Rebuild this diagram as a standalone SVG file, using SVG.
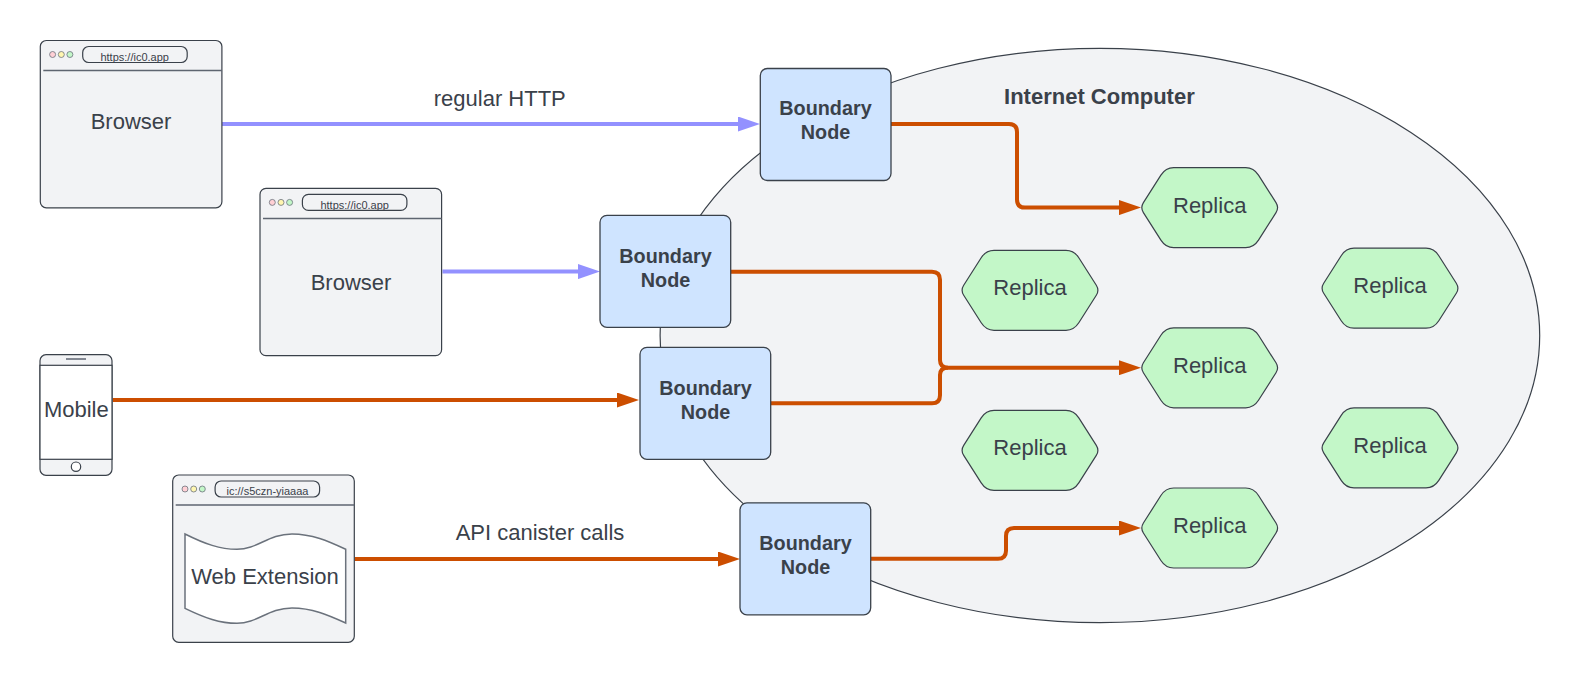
<svg xmlns="http://www.w3.org/2000/svg" width="1580" height="682" viewBox="0 0 1580 682">
<style>
text{font-family:"Liberation Sans",Arial,sans-serif;fill:#3a414a;text-anchor:middle}
.o{stroke:#3a414a;stroke-width:1.2;fill:#f2f3f5}
.w{stroke:#3a414a;stroke-width:1.2;fill:#fff}
.sep{stroke:#5e6570;stroke-width:1.5;fill:none}
.bn{stroke:#3a414a;stroke-width:1.3;fill:#cfe4ff}
.bt{font-size:19.8px;font-weight:bold}
.rep{stroke:#3a414a;stroke-width:1.2;fill:#c3f7c8}
.rt{font-size:22px}
.url{font-size:11px}
.lab{font-size:22px}
.dot{stroke:#6b727c;stroke-width:.8}
.c{fill:none;stroke-width:4;stroke-linejoin:round}
.or{stroke:#cc4e00;marker-end:url(#ao)}
.pu{stroke:#9391ff;marker-end:url(#ap)}
</style>
<defs>
<marker id="ao" markerUnits="userSpaceOnUse" markerWidth="22" markerHeight="15" refX="12" refY="7.500" orient="auto"><path d="M0 0L22 7.500L0 15Z" fill="#cc4e00"/></marker>
<marker id="ap" markerUnits="userSpaceOnUse" markerWidth="22" markerHeight="15" refX="12" refY="7.500" orient="auto"><path d="M0 0L22 7.500L0 15Z" fill="#9391ff"/></marker>
<g id="win">
<rect class="o" x="0" y="0" width="181.600" height="167.300" rx="6"/>
<path class="sep" d="M3 30H181.600"/>
<circle class="dot" cx="12.300" cy="14" r="3" fill="#ffd0d5"/>
<circle class="dot" cx="21" cy="14" r="3" fill="#fff6b0"/>
<circle class="dot" cx="29.600" cy="14" r="3" fill="#c3f7c8"/>
<rect x="42.400" y="6" width="104.500" height="16" rx="6" fill="#f2f3f5" stroke="#3a414a" stroke-width="1.200"/>
</g>
<path id="hex" d="M-36 -40H36Q44 -40 48.800 -32.500L66.300 -5Q69.500 0 66.300 5L48.800 32.500Q44 40 36 40H-36Q-44 40 -48.800 32.500L-66.300 5Q-69.500 0 -66.300 -5L-48.800 -32.500Q-44 -40 -36 -40Z"/>
</defs>

<g id="internet-computer">
<ellipse class="o" cx="1099.900" cy="335.500" rx="439.800" ry="287.200"/>
<text x="1099.400" y="104" font-size="22" font-weight="bold">Internet Computer</text>
</g>

<g id="connectors">
<path class="c pu" d="M222 124H750"/>
<path class="c pu" d="M442.500 271.600H590"/>
<path class="c or" d="M112.700 400H629"/>
<path class="c or" d="M354.500 559H730"/>
<path class="c or" d="M891 124H1009Q1017 124 1017 132V199.600Q1017 207.600 1025 207.600H1131"/>
<path class="c or" d="M730.700 271.700H932Q940 271.700 940 279.700V360Q940 367.700 948 367.700H1131"/>
<path class="c" stroke="#cc4e00" d="M770.700 403.300H932Q940 403.300 940 395.300V375Q940 367.700 948 367.700"/>
<path class="c or" d="M870.700 558.800H998Q1006 558.800 1006 550.800V536Q1006 528 1014 528H1131"/>
</g>

<g id="browser-1"><use href="#win" x="40.300" y="40.500"/><text class="url" x="134.700" y="61">https://ic0.app</text><text class="lab" x="131" y="129">Browser</text></g>
<g id="browser-2"><use href="#win" x="260" y="188.400"/><text class="url" x="354.700" y="209">https://ic0.app</text><text class="lab" x="351" y="289.500">Browser</text></g>

<g id="mobile">
<rect class="o" x="40" y="354.700" width="72" height="120.600" rx="6"/>
<rect class="w" x="40" y="365.300" width="72" height="94"/>
<path class="sep" d="M66 359H86"/>
<circle cx="76" cy="466.700" r="4.700" fill="#fff" stroke="#3a414a" stroke-width="1.200"/>
<text class="lab" x="76.300" y="417.300">Mobile</text>
</g>

<g id="web-extension"><use href="#win" x="172.700" y="475"/>
<text class="url" x="267.500" y="495">ic://s5czn-yiaaaa</text>
<path fill="#fff" stroke="#6b727c" stroke-width="1.500" d="M185 534C205 544 220 549.300 237 549.300C258 549.300 268 534 292 534C312 534 328 541 345.700 549.300V623C328 615 312 608 292 608C268 608 258 623.300 237 623.300C220 623.300 205 618 185 608.300Z"/>
<text class="lab" x="265" y="584.300">Web Extension</text>
</g>

<g id="bn-1"><rect class="bn" x="760.300" y="68.500" width="130.700" height="112" rx="7"/><text class="bt" x="825.500" y="115">Boundary</text><text class="bt" x="825.500" y="139">Node</text></g>
<g id="bn-2"><rect class="bn" x="600" y="215.300" width="130.700" height="112" rx="7"/><text class="bt" x="665.500" y="262.700">Boundary</text><text class="bt" x="665.500" y="286.700">Node</text></g>
<g id="bn-3"><rect class="bn" x="640" y="347.300" width="130.700" height="112" rx="7"/><text class="bt" x="705.500" y="394.700">Boundary</text><text class="bt" x="705.500" y="418.500">Node</text></g>
<g id="bn-4"><rect class="bn" x="740" y="502.800" width="130.700" height="112" rx="7"/><text class="bt" x="805.500" y="550">Boundary</text><text class="bt" x="805.500" y="574">Node</text></g>

<g id="replica-1"><use href="#hex" class="rep" x="1209.700" y="207.600"/><text class="rt" x="1209.700" y="212.500">Replica</text></g>
<g id="replica-2"><use href="#hex" class="rep" x="1030" y="290.300"/><text class="rt" x="1030" y="295">Replica</text></g>
<g id="replica-3"><use href="#hex" class="rep" x="1209.700" y="367.800"/><text class="rt" x="1209.700" y="372.700">Replica</text></g>
<g id="replica-4"><use href="#hex" class="rep" x="1390" y="288.200"/><text class="rt" x="1390" y="293">Replica</text></g>
<g id="replica-5"><use href="#hex" class="rep" x="1030" y="450.400"/><text class="rt" x="1030" y="455.300">Replica</text></g>
<g id="replica-6"><use href="#hex" class="rep" x="1390" y="447.900"/><text class="rt" x="1390" y="452.800">Replica</text></g>
<g id="replica-7"><use href="#hex" class="rep" x="1209.700" y="528"/><text class="rt" x="1209.700" y="532.900">Replica</text></g>

<g id="labels">
<text class="lab" x="499.800" y="106">regular HTTP</text>
<text class="lab" x="540" y="540">API canister calls</text>
</g>
</svg>
